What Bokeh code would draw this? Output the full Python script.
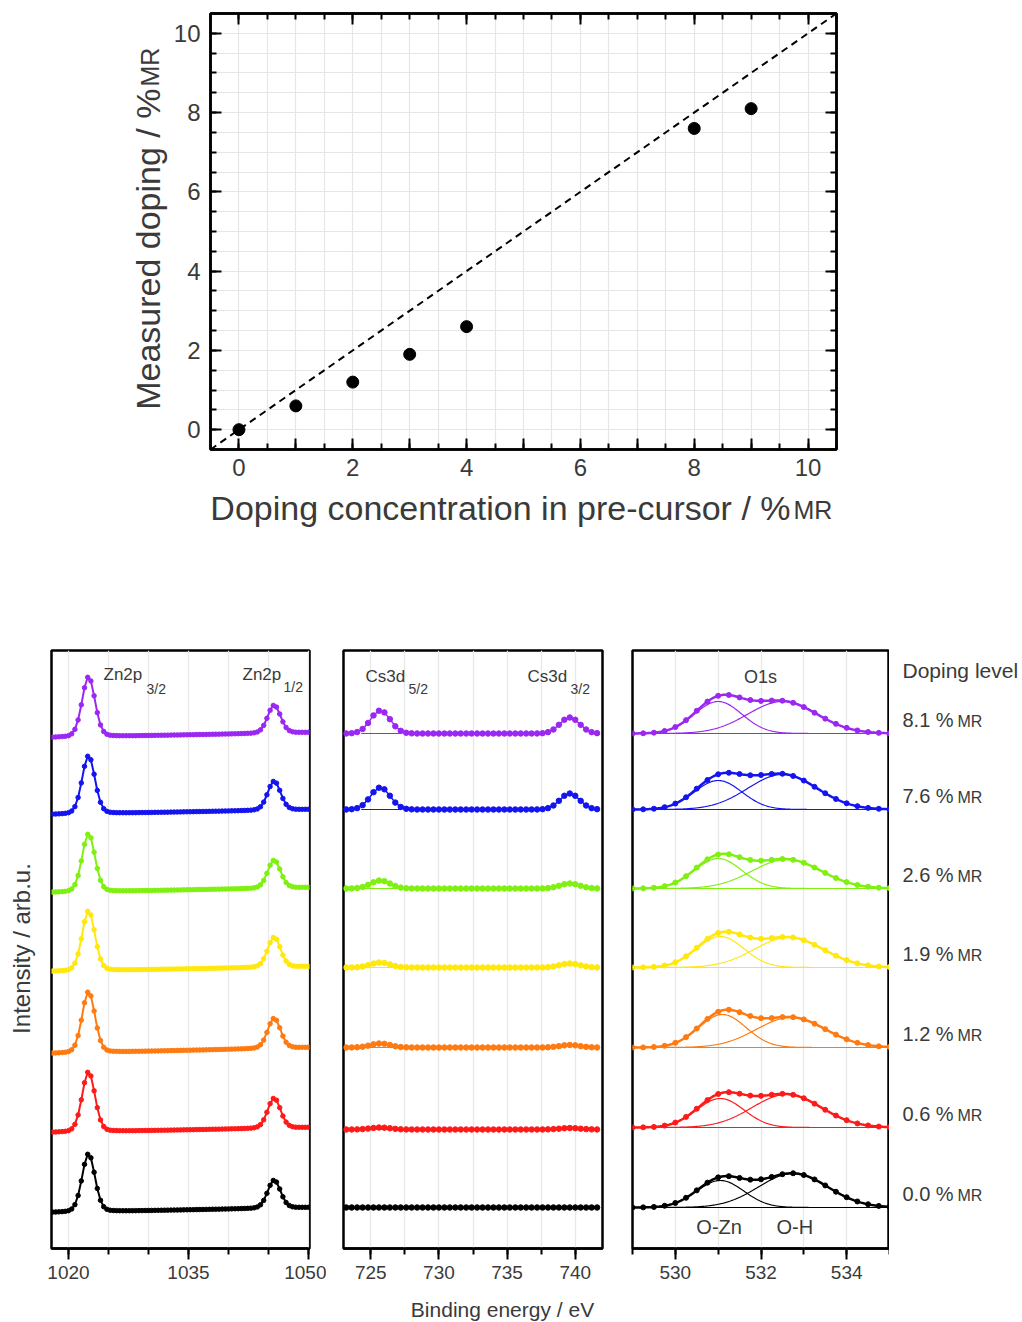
import numpy as np
from bokeh.plotting import figure
from bokeh.models import Range1d, LinearAxis, SingleIntervalTicker, Label, Slope
from bokeh.layouts import column, row
from bokeh.embed import file_html
from bokeh.resources import INLINE

FONT = "Liberation Sans"
TXT = "#3a3a3a"

# ---------------- top panel data ----------------
precursor = [0, 1, 2, 3, 4, 8, 9]
measured = [0.0, 0.6, 1.2, 1.9, 2.6, 7.6, 8.1]

# ---------------- XPS spectra (top to bottom) ----------------
levels = ["8.1", "7.6", "2.6", "1.9", "1.2", "0.6", "0.0"]
colors = ["#9b27f2", "#1414f0", "#7ff010", "#ffe80a", "#ff7a10", "#ff1a1a", "#000000"]

# Zn2p: baseline (arb.u.), background rise, peak heights
zn_base = [511, 434, 356, 277, 195, 116, 36]
zn_rise = [5, 5, 5, 5, 6, 5, 5]
zn_h32 = [60, 58, 58, 60, 61, 60, 58]
zn_h12 = [28, 29, 28, 30, 30, 30, 28]
zn_centers = [1022.5, 1045.7]
zn_fwhm = 1.9

# Cs3d
cs_base = [515, 439, 360, 281, 201, 119, 41]
cs_h52 = [23, 22, 8, 5, 4, 2, 0]
cs_h32 = [16, 16, 5, 4, 2.5, 1.5, 0]
cs_centers = [725.7, 739.6]
cs_fwhm = 1.7
cs_fit_window = [724.3, 727.3]

# O1s
o_base = [515, 439, 360, 281, 201, 121, 41]
ozn_c = [531.0, 531.0, 531.0, 531.05, 531.1, 531.05, 531.05]
ozn_h = [32, 29, 30, 31, 33, 29, 27]
oh_c = [532.5, 532.5, 532.6, 532.65, 532.7, 532.6, 532.75]
oh_h = [32, 35, 29, 30, 30, 33, 34]
ozn_fwhm = 1.3
oh_fwhm = 1.9


def pv(x, c, h, w, eta=0.0):
    d = (x - c) / w
    return h * ((1 - eta) * np.exp(-4 * np.log(2) * d * d) + eta / (1 + 4 * d * d))


def lab(p, x, y, text, size, align="left", angle=0.0):
    # (x, y) is the vertical middle of the text line
    p.add_layout(Label(x=x, y=y, text=text, text_font=FONT, text_font_size=f"{size}px",
                       text_color=TXT, text_align=align, text_baseline="middle", angle=angle))


def holder(w, h, xr, yr, top=0, bottom=0):
    """figure used only to hold text"""
    f = figure(width=w, height=h, x_range=Range1d(*xr), y_range=Range1d(*yr),
               output_backend="svg", toolbar_location=None, x_axis_location=None,
               y_axis_location=None, min_border_left=0, min_border_right=0,
               min_border_top=top, min_border_bottom=bottom)
    f.outline_line_color = None
    f.xgrid.visible = False
    f.ygrid.visible = False
    return f


# ================= TOP FIGURE =================
TOP_H = 485
top = figure(width=852, height=TOP_H, x_range=Range1d(-0.5, 10.5), y_range=Range1d(-0.5, 10.5),
             output_backend="svg", toolbar_location=None,
             min_border_left=40, min_border_right=186, min_border_top=13, min_border_bottom=TOP_H - 449)
top.outline_line_color = "black"
top.outline_line_width = 2.5

for g in (top.xgrid[0], top.ygrid[0]):
    g.ticker = SingleIntervalTicker(interval=0.5, num_minor_ticks=0)
    g.grid_line_color = "#e6e6e6"
    g.grid_line_width = 1.2

ax_b = top.below[0]
ax_l = top.left[0]
ax_b.ticker = SingleIntervalTicker(interval=1, num_minor_ticks=2)
ax_b.major_label_overrides = {1: "", 3: "", 5: "", 7: "", 9: ""}
ax_l.ticker = SingleIntervalTicker(interval=2, num_minor_ticks=4)

ax_t = LinearAxis(ticker=SingleIntervalTicker(interval=2, num_minor_ticks=4))
ax_r = LinearAxis(ticker=SingleIntervalTicker(interval=2, num_minor_ticks=4))
top.add_layout(ax_t, "above")
top.add_layout(ax_r, "right")

for ax in [ax_b, ax_l, ax_t, ax_r]:
    ax.axis_line_width = 2.5
    ax.axis_line_color = "black"
    ax.major_tick_in = 11
    ax.major_tick_out = 0
    ax.minor_tick_in = 6
    ax.minor_tick_out = 0
    ax.major_tick_line_width = 2
    ax.minor_tick_line_width = 2
    ax.major_tick_line_color = "black"
    ax.minor_tick_line_color = "black"
    ax.major_label_text_font = FONT
    ax.major_label_text_color = TXT
    ax.major_label_text_font_size = "24px"
for ax in [ax_t, ax_r]:
    # tick marks only: labels not drawn at all
    ax.major_label_text_color = None
    ax.major_label_text_font_size = "0px"
    ax.major_label_standoff = 0
ax_b.major_label_standoff = 9
ax_l.major_label_standoff = 10

top.add_layout(Slope(gradient=1, y_intercept=0, line_color="black", line_width=2, line_dash="7 5"))
top.scatter(precursor, measured, size=12, color="black")

# y title holder: in the same row, its frame aligned with the top frame (same y units)
ytit = holder(170, TOP_H, (0, 170), (-0.5, 10.5), top=13, bottom=TOP_H - 449)
lab(ytit, 147, 8.607, "Measured doping / %", 34, align="right", angle=np.pi / 2)
lab(ytit, 149, 8.657, "MR", 25, align="left", angle=np.pi / 2)

# x title holder (page y TOP_H..560, page pixel coordinates)
xtit = holder(1022, 560 - TOP_H, (0, 1022), (560, TOP_H))
lab(xtit, 790, 507, "Doping concentration in pre-cursor / %", 34, align="right")
lab(xtit, 793, 509, "MR", 25, align="left")


# ================= BOTTOM PANELS =================
# intensity coordinate = 1248 - page y
def panel(xr, w, bl, br, interval, nminor, grid_int):
    p = figure(width=w, height=736, x_range=Range1d(*xr), y_range=Range1d(0, 598),
               output_backend="svg", toolbar_location=None,
               min_border_left=bl, min_border_right=br, min_border_top=90, min_border_bottom=48)
    p.outline_line_color = "black"
    p.outline_line_width = 2.5
    p.yaxis.visible = False
    p.ygrid.visible = False
    p.xgrid.ticker = SingleIntervalTicker(interval=grid_int, num_minor_ticks=0)
    p.xgrid.grid_line_color = "#e8e8e8"
    p.xgrid.grid_line_width = 1.3
    ax = p.below[0]
    ax.ticker = SingleIntervalTicker(interval=interval, num_minor_ticks=nminor)
    ax.axis_line_width = 2.5
    ax.axis_line_color = "black"
    ax.major_tick_in = 0
    ax.major_tick_out = 11
    ax.minor_tick_in = 0
    ax.minor_tick_out = 6
    ax.major_tick_line_width = 2
    ax.minor_tick_line_width = 2
    ax.major_tick_line_color = "black"
    ax.minor_tick_line_color = "black"
    ax.major_label_text_font = FONT
    ax.major_label_text_color = TXT
    ax.major_label_text_font_size = "19px"
    ax.major_label_standoff = 6
    return p


fz = panel((1017.875, 1050.125), 286, 11, 17, 15, 3, 5)
fc = panel((723.0, 742.0), 291, 17, 15, 5, 2, 2.5)
fo = panel((529.0, 535.0), 272, 15, 0, 2, 2, 1)

zn_x = np.arange(1018.0, 1050.01, 0.4)
cs_x = np.arange(723.2, 741.7, 0.4)
o_x = np.arange(529.0, 535.01, 0.25)
o_xf = np.linspace(529.0, 535.0, 301)

# side text holders, same intensity units as the panels (frames aligned in the row)
ylab = holder(40, 736, (0, 40), (0, 598), top=90, bottom=48)
rlab = holder(133, 736, (889, 1022), (0, 598), top=90, bottom=48)
blab = holder(1022, 26, (0, 1022), (1322, 1296))

for i, col in enumerate(colors):
    # Zn2p
    bg = zn_base[i] + zn_rise[i] * (zn_x - zn_x[0]) / (zn_x[-1] - zn_x[0])
    yz = bg + pv(zn_x, zn_centers[0], zn_h32[i], zn_fwhm, 0.15) + pv(zn_x, zn_centers[1], zn_h12[i], zn_fwhm, 0.15)
    fz.line(zn_x, yz, line_color=col, line_width=2)
    fz.scatter(zn_x, yz, size=4.5, color=col)

    # Cs3d
    yc = cs_base[i] + pv(cs_x, cs_centers[0], cs_h52[i], cs_fwhm) + pv(cs_x, cs_centers[1], cs_h32[i], cs_fwhm)
    if cs_h52[i] > 0:
        fc.line(cs_fit_window, [cs_base[i], cs_base[i]], line_color=col, line_width=1.2)
    fc.line(cs_x, yc, line_color=col, line_width=1.5)
    fc.scatter(cs_x, yc, size=5.5, color=col)

    # O1s
    c1 = pv(o_xf, ozn_c[i], ozn_h[i], ozn_fwhm)
    c2 = pv(o_xf, oh_c[i], oh_h[i], oh_fwhm)
    fo.line(o_xf, o_base[i] + 0 * o_xf, line_color=col, line_width=1.2)
    fo.line(o_xf, o_base[i] + c1, line_color=col, line_width=1.2)
    fo.line(o_xf, o_base[i] + c2, line_color=col, line_width=1.2)
    fo.line(o_xf, o_base[i] + c1 + c2, line_color=col, line_width=2.5)
    yo = o_base[i] + pv(o_x, ozn_c[i], ozn_h[i], ozn_fwhm) + pv(o_x, oh_c[i], oh_h[i], oh_fwhm)
    fo.scatter(o_x, yo, size=5, color=col)

    # doping level labels, a little above the O1s baseline
    lab(rlab, 902, o_base[i] + 13.5, levels[i] + " %", 20)
    lab(rlab, 957, o_base[i] + 12.5, "MR", 16)

lab(rlab, 902, 578.5, "Doping level", 21)

# peak labels (intensity coordinates inside the frames)
lab(fz, 1024.375, 574, "Zn2p", 17)
lab(fz, 1029.75, 560, "3/2", 14)
lab(fz, 1041.75, 574, "Zn2p", 17)
lab(fz, 1046.875, 562, "1/2", 14)
lab(fc, 724.61, 572, "Cs3d", 17)
lab(fc, 727.77, 560, "5/2", 14)
lab(fc, 736.5, 572, "Cs3d", 17)
lab(fc, 739.65, 560, "3/2", 14)
lab(fo, 531.99, 572, "O1s", 18, align="center")
lab(fo, 530.49, 22, "O-Zn", 20)
lab(fo, 532.36, 22, "O-H", 20)

# shared axis titles
lab(ylab, 21, 300, "Intensity / arb.u.", 24, align="center", angle=np.pi / 2)
lab(blab, 502, 1309, "Binding energy / eV", 21, align="center")

layout = column(
    row(ytit, top),
    xtit,
    column(row(ylab, fz, fc, fo, rlab), blab),
)
open("out.html", "w").write(file_html(layout, INLINE))
